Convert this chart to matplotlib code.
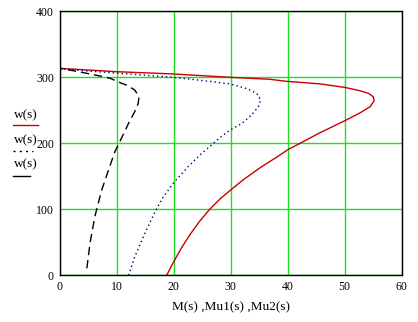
import matplotlib.pyplot as plt
from matplotlib.lines import Line2D

# M(s) - красная кривая
m_x = [18.8, 20, 21.5, 23, 24.6, 26.4, 28.2, 30, 32.2, 35.2, 38.1, 40, 42.2,
       45.7, 50, 52.7, 54.5, 55.2, 55.05, 54.2, 52.7, 50, 45.7, 42.2, 39.9,
       36.9, 29.9, 20, 15.9, 10, 0]
m_w = [0, 20, 43, 63, 82, 100.5, 116, 129, 144.5, 163, 179, 190, 200,
       216, 234, 246, 255.5, 264.5, 270.6, 275.7, 279.7, 284.8, 290, 292.4, 293.8,
       297, 300, 305, 306.5, 308.5, 313.6]

# Mu1(s) - синяя точечная
mu1_x = [12.1, 13.2, 15, 16.75, 18, 20, 22.6, 24.6, 27, 28.2, 29.9,
         32, 33.7, 34.9, 35.3, 34.6, 32.8, 29.9, 25.2, 20, 10.6, 5, 0]
mu1_w = [0, 28, 64, 96, 116, 140, 165, 182, 200, 209, 220,
         230, 243, 255.5, 265.6, 275.7, 283, 290, 295, 300, 306, 309.5, 313]

# Mu2(s) - чёрная штриховая
mu2_x = [4.8, 5.35, 6.2, 7.4, 8.6, 9.7, 11, 12.1, 13.2, 13.8, 13.95, 13.2,
         11.8, 10.3, 8.9, 7.1, 4.8, 2.4, 0]
mu2_w = [10.6, 48.5, 89, 129, 159.5, 187, 210, 230, 248, 260, 270.6, 280.8,
         288, 293, 298.5, 302, 306, 310, 313.6]

x_ticks = [0, 10, 20, 30, 40, 50, 60]
y_ticks = [0, 100, 200, 300, 400]

plt.rcParams['font.family'] = ['Liberation Serif', 'DejaVu Serif']
plt.rcParams['font.size'] = 8.5

fig = plt.figure(figsize=(4.18, 3.22), dpi=100)
ax = fig.add_axes([59.5 / 418, 1 - 275.3 / 322, 342 / 418, 264 / 322])

ax.plot(m_x, m_w, color='#c80000', linewidth=1.0)
ax.plot(mu1_x, mu1_w, color='#000080', linewidth=1.0, linestyle=(0, (1, 2.2)))
ax.plot(mu2_x, mu2_w, color='black', linewidth=1.0, linestyle=(0, (6, 3.5)))

ax.set_xlim(0, 60)
ax.set_ylim(0, 400)
ax.set_xticks(x_ticks)
ax.set_yticks(y_ticks)
ax.tick_params(length=0, pad=4)
ax.grid(True, color='#22dd22', linewidth=1.0)
ax.set_axisbelow(True)
for sp in ax.spines.values():
    sp.set_linewidth(1.0)
    sp.set_color('black')

ax.set_xlabel('M(s) ,Mu1(s) ,Mu2(s)', fontsize=9.5, labelpad=6)

# легенда слева от осей
legend_rows = [(115, 125, 13, 38, '#c80000', '-'),
               (140.5, 151, 13, 33, 'black', (0, (1.5, 3))),
               (164.5, 176, 13, 30, 'black', '-')]
for ty, ly, x0, x1, col, ls in legend_rows:
    fig.text(26 / 418, 1 - ty / 322, 'w(s)', ha='center', va='center', fontsize=9.5)
    fig.add_artist(Line2D([x0 / 418, x1 / 418], [1 - ly / 322, 1 - ly / 322],
                          color=col, linestyle=ls, linewidth=1.0))

fig.savefig('out.png', dpi=100)
